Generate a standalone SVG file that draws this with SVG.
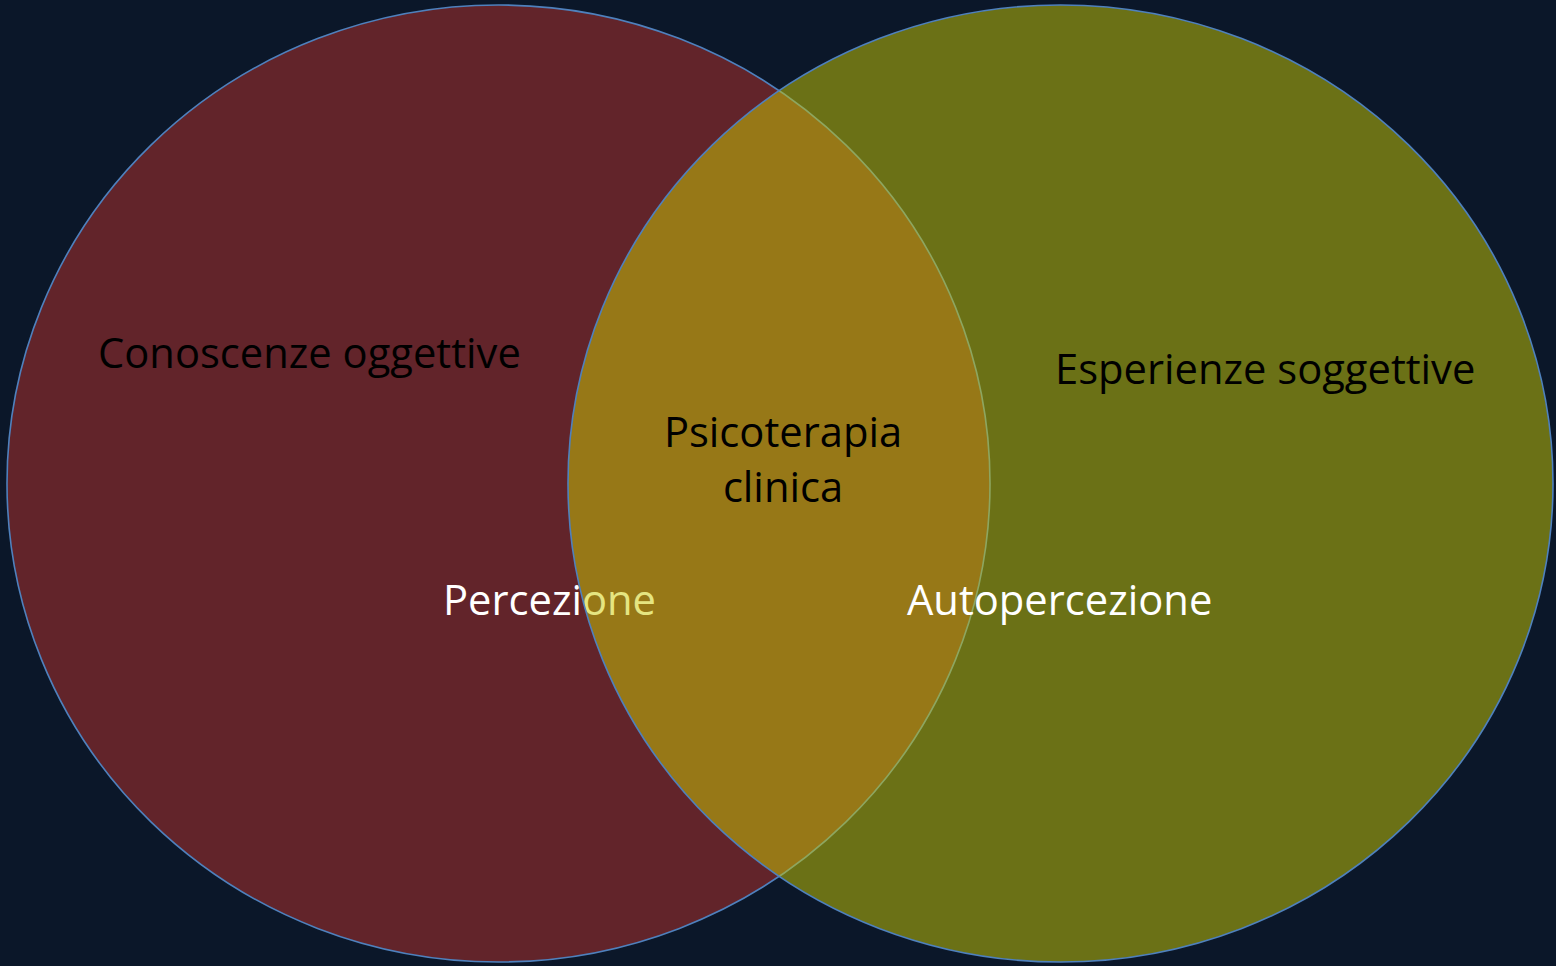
<svg xmlns="http://www.w3.org/2000/svg" width="1556" height="966" viewBox="0 0 1556 966">
  <style>
    .set { stroke: #4f81bd; stroke-width: 1.6; }
    .lbl { font-family: "Open Sans", "Liberation Sans", sans-serif; font-size: 41.7px; }
    .dark { fill: #000000; }
    .light { fill: #ffffff; }
  </style>
  <rect width="1556" height="966" fill="#0b1729"/>

  <!-- left set: solid red; its white label sits under the right set -->
  <g id="set-conoscenze">
    <ellipse class="set" cx="498.5" cy="483.5" rx="491.5" ry="478.5" fill="#62242a"/>
    <text class="lbl dark" x="98" y="368">Conoscenze oggettive</text>
    <text class="lbl light" x="443" y="615">Percezione</text>
  </g>

  <!-- right set: half-transparent yellow, tints what lies beneath -->
  <g id="set-esperienze">
    <ellipse class="set" cx="1060.5" cy="483.5" rx="492.5" ry="478.5" fill="#cbcb03" fill-opacity="0.5"/>
    <text class="lbl dark" x="1055" y="384">Esperienze soggettive</text>
    <text class="lbl light" x="907" y="615">Autopercezione</text>
  </g>

  <g id="overlap">
    <text class="lbl dark" x="783" y="447" text-anchor="middle">Psicoterapia</text>
    <text class="lbl dark" x="783" y="502" text-anchor="middle">clinica</text>
  </g>
</svg>
